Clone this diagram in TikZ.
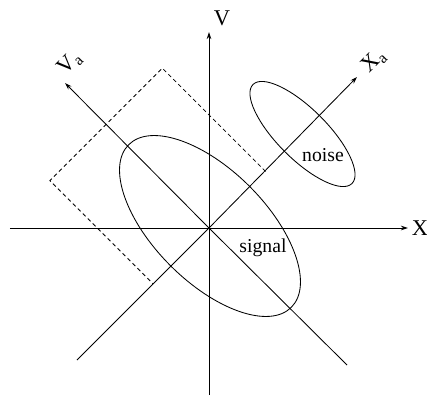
\documentclass[tikz,border=0pt]{standalone}
\usepackage{fontspec}
\setmainfont{Liberation Serif}
\usetikzlibrary{arrows.meta}
\tikzset{
  axis/.style={line width=0.6pt, -{Stealth[length=5pt, width=3.2pt]}},
  plain/.style={line width=0.6pt},
  dashbox/.style={line width=0.6pt, dash pattern=on 2.8pt off 2.2pt},
  lbl/.style={font=\fontsize{14}{14}\selectfont, inner sep=0pt},
  axlbl/.style={font=\fontsize{16}{16}\selectfont, inner sep=0pt},
}
\begin{document}
\begin{tikzpicture}[x=0.025cm, y=0.025cm]
  \useasboundingbox (-209,-181) rectangle (218,228);
  % main axes
  \coordinate (xl) at (-199,0);
  \coordinate (xr) at (199,0);
  \coordinate (vb) at (0,-167);
  \coordinate (vt) at (0,196);
  \draw[axis] (xl) -- (xr);
  \draw[axis] (vb) -- (vt);
  \node[axlbl] (xlab) at (211,0) {X};
  \node[axlbl] (vlab) at (13,210) {V};
  % rotated axes
  \coordinate (xab) at (-132,-132);
  \coordinate (xat) at (148,151);
  \coordinate (vab) at (138,-137);
  \coordinate (vat) at (-144,145);
  \draw[plain] (xab) -- (0,0);
  \draw[axis] (0,0) -- (xat);
  \draw[plain] (vab) -- (0,0);
  \draw[axis] (0,0) -- (vat);
  \node[axlbl, rotate=45] (valab) at (-139,165) {V\textsubscript{a}};
  \node[axlbl, rotate=45] (xalab) at (165,167) {X\textsubscript{a}};
  % ellipses
  \draw[plain, rotate around={-45:(1,2)}] (1,2) ellipse [x radius=115, y radius=56];
  \draw[plain, rotate around={-45:(93.5,94)}] (93.5,94) ellipse [x radius=70, y radius=25];
  \node[lbl] (noise) at (114,73) {noise};
  \node[lbl] (signal) at (54,-20) {signal};
  % dashed box
  \begin{scope}[rotate=45]
    \draw[dashbox] (80,0) -- (80,146) -- (-79,146) -- (-79,0);
  \end{scope}
\end{tikzpicture}
\end{document}
